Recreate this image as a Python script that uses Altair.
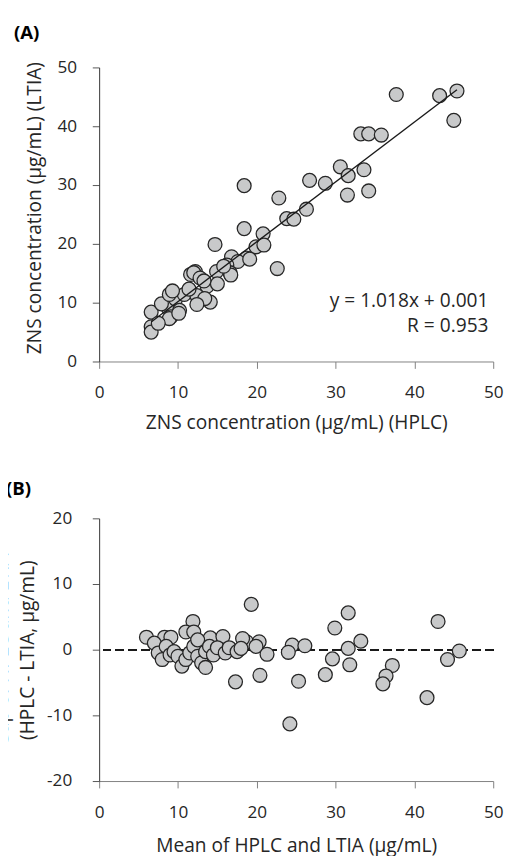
import altair as alt
import pandas as pd

# ---------------- data ----------------
hplc = [37.7, 43.2, 45.4, 45.0, 33.2, 34.2, 35.8, 30.6, 31.6, 33.6,
        31.5, 34.2, 26.7, 28.7, 18.4, 22.8, 26.3, 23.8, 24.7, 18.4,
        20.8, 14.7, 19.9, 20.9, 18.7, 16.8, 17.6, 22.6, 16.2, 14.9,
        16.6, 12.2, 11.6, 6.6, 6.6, 6.6, 8.7, 9.1, 7.9, 9.7,
        10.8, 8.9, 9.3, 12.0, 12.8, 13.7, 12.4, 14.1, 11.4, 10.2,
        8.9, 19.1, 13.4, 12.4, 10.1, 7.5, 15.0, 16.7, 15.8, 13.3]
ltia = [45.4, 45.2, 46.0, 41.0, 38.7, 38.7, 38.5, 33.1, 31.6, 32.6,
        28.3, 29.0, 30.8, 30.3, 29.9, 27.8, 25.9, 24.3, 24.2, 22.6,
        21.7, 19.9, 19.5, 19.8, 17.6, 17.8, 17.0, 15.8, 16.4, 15.3,
        15.1, 15.3, 14.8, 8.4, 5.9, 5.0, 9.2, 7.6, 9.8, 10.6,
        11.4, 11.4, 12.0, 15.1, 14.2, 12.8, 11.2, 10.1, 12.3, 8.7,
        7.3, 17.4, 10.7, 9.7, 8.2, 6.5, 13.2, 14.7, 16.2, 13.7]

ba_mean = [19.3, 18.7, 20.3, 19.9, 21.3, 20.4, 24.5, 24.0, 26.1, 25.3,
           24.2, 29.9, 31.6, 33.2, 31.6, 29.6, 31.8, 28.7, 37.2, 36.4,
           36.0, 43.0, 45.7, 44.2, 41.6,
           11.9, 6.0, 11.0, 8.3, 9.1, 12.0, 14.1, 15.7, 18.2,
           7.0, 7.5, 8.0, 8.5, 9.0, 9.5, 10.0, 10.5, 11.0, 11.5,
           12.0, 12.5, 12.5, 13.0, 13.5, 13.5, 14.0, 14.5, 15.0, 16.0,
           16.5, 17.3, 17.5, 18.0]
ba_diff = [6.9, 1.2, 1.2, 0.5, -0.7, -3.9, 0.7, -0.4, 0.6, -4.8,
           -11.3, 3.3, 5.6, 1.3, 0.2, -1.4, -2.3, -3.8, -2.4, -4.0,
           -5.2, 4.3, -0.2, -1.5, -7.3,
           4.3, 1.9, 2.7, 1.9, 1.9, 2.7, 1.8, 2.0, 1.7,
           1.0, -0.5, -1.5, 0.5, -0.8, -0.3, -1.0, -2.5, -1.5, -0.5,
           0.5, 1.5, -1.0, -2.0, -0.3, -2.7, 0.5, -0.8, 0.3, -0.5,
           0.3, -4.9, -0.3, 0.2]

fit_x = [6.6, 45.4]
slope = 1.018
intercept = 0.001
eq_text = ["y = 1.018x + 0.001", "R = 0.953"]

ticks_a = [0, 10, 20, 30, 40, 50]
ticks_b_y = [-20, -10, 0, 10, 20]

# ---------------- styling ----------------
FONT = "Open Sans"
TXT = "#262626"
FILL = "#c8c9ca"
EDGE = "#262626"
PW = 402
LBL = 17.5
TTL = 19.5

dfA = pd.DataFrame({"hplc": hplc, "ltia": ltia})
dfB = pd.DataFrame({"mean": ba_mean, "diff": ba_diff})
dfFit = pd.DataFrame({"x": fit_x})
dfEq = pd.DataFrame({"label": eq_text, "row": [0, 1]})

SCALE_A = alt.Scale(domain=[0, 50], nice=False)


def x_axis(title, title_y):
    return alt.Axis(values=ticks_a, title=title, grid=False,
                    domainColor="#808080", tickColor="#808080", tickSize=7,
                    labelPadding=16, labelFlush=False, labelFont=FONT,
                    labelFontSize=LBL, labelColor=TXT, titleFont=FONT,
                    titleFontSize=TTL, titleFontWeight="normal", titleColor=TXT,
                    titleX=PW / 2, titleY=title_y, titleAlign="center",
                    titleBaseline="middle")


def y_axis(values, title, pad, tx, ty, baseline, lh=None):
    kw = dict(values=values, title=title, grid=False, domainColor="#333333",
              tickColor="#555555", tickSize=7, labelPadding=pad, labelFont=FONT,
              labelFontSize=LBL, labelColor=TXT, titleFont=FONT,
              titleFontSize=TTL, titleFontWeight="normal", titleColor=TXT,
              titleAngle=270, titleX=tx, titleY=ty, titleAlign="center",
              titleBaseline=baseline, labelExpr="'' + datum.value")
    if lh is not None:
        kw["titleLineHeight"] = lh
    return alt.Axis(**kw)


xA = alt.X("hplc:Q", scale=SCALE_A,
           axis=x_axis("ZNS concentration (μg/mL) (HPLC)", 62))
yA = alt.Y("ltia:Q", scale=SCALE_A,
           axis=y_axis(ticks_a, "ZNS concentration (μg/mL) (LTIA)", 16, -66, 143, "middle"))

pointsA = alt.Chart(dfA).mark_circle(size=200, color=FILL, stroke=EDGE,
                                     strokeWidth=1.3, opacity=1).encode(x=xA, y=yA)

fitA = alt.Chart(dfFit).transform_calculate(
    y=f"{slope} * datum.x + {intercept}"
).mark_line(color="#1a1a1a", strokeWidth=1.4).encode(
    x=alt.X("x:Q", scale=SCALE_A),
    y=alt.Y("y:Q", scale=SCALE_A),
)


def eq_layer(row, yval):
    return alt.Chart(dfEq).transform_filter(f"datum.row == {row}").mark_text(
        align="right", baseline="middle", font=FONT, fontSize=TTL, color=TXT
    ).encode(x=alt.datum(49.4), y=alt.datum(yval), text="label:N")


panelA = alt.layer(pointsA, fitA, eq_layer(0, 10.3), eq_layer(1, 6.1)).properties(
    width=PW, height=300,
    title=alt.TitleParams("(A)", anchor="start", frame="group", dx=-87, offset=16,
                          font=FONT, fontSize=19, fontWeight="bold", color="#000000"))

xB = alt.X("mean:Q", scale=alt.Scale(domain=[0, 50], nice=False),
           axis=x_axis("Mean of HPLC and LTIA (μg/mL)", 66))
yB = alt.Y("diff:Q", scale=alt.Scale(domain=[-20, 20], nice=False),
           axis=y_axis(ticks_b_y, ["Gap of HPLC and LTIA", "(HPLC - LTIA, μg/mL)"],
                       21, -90, 134, "bottom", 27))

pointsB = alt.Chart(dfB).mark_circle(size=200, color=FILL, stroke=EDGE,
                                     strokeWidth=1.3, opacity=1).encode(x=xB, y=yB)
zeroB = alt.Chart(dfB).mark_rule(color="#1a1a1a", strokeWidth=1.5,
                                 strokeDash=[8, 5]).encode(y=alt.datum(0))

panelB = alt.layer(zeroB, pointsB).properties(
    width=PW, height=268,
    title=alt.TitleParams("(B)", anchor="start", frame="group", dx=-95, offset=11,
                          font=FONT, fontSize=19, fontWeight="bold", color="#000000"))

chart = alt.vconcat(panelA, panelB, spacing=49).properties(
    padding={"left": -17, "top": 8, "right": 0, "bottom": 0}
).configure_view(strokeWidth=0)

chart.save("out.html", embed_options={"renderer": "svg", "actions": False})
